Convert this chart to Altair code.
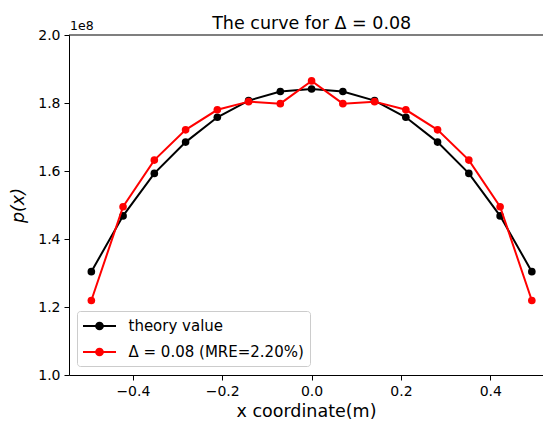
import altair as alt
import pandas as pd

x_vals = [-0.493, -0.422, -0.352, -0.282, -0.211, -0.141, -0.070, 0.0,
          0.070, 0.141, 0.211, 0.282, 0.352, 0.422, 0.493]
theory = [1.304e8, 1.468e8, 1.593e8, 1.685e8, 1.758e8, 1.807e8, 1.834e8, 1.841e8,
          1.834e8, 1.807e8, 1.758e8, 1.685e8, 1.593e8, 1.468e8, 1.304e8]
approx = [1.219e8, 1.495e8, 1.632e8, 1.721e8, 1.780e8, 1.804e8, 1.798e8, 1.865e8,
          1.798e8, 1.804e8, 1.780e8, 1.721e8, 1.632e8, 1.495e8, 1.219e8]
series_names = ["theory value", "Δ = 0.08 (MRE=2.20%)"]
series_colors = ["#000000", "#ff0000"]
x_ticks = [-0.4, -0.2, 0.0, 0.2, 0.4]
y_ticks = [1.0e8, 1.2e8, 1.4e8, 1.6e8, 1.8e8, 2.0e8]
title_text = "The curve for Δ = 0.08"
offset_label = "1e8"

rows = []
for xv, t in zip(x_vals, theory):
    rows.append({"x": xv, "p": t, "series": series_names[0]})
for xv, a in zip(x_vals, approx):
    rows.append({"x": xv, "p": a, "series": series_names[1]})
df = pd.DataFrame(rows)
one = pd.DataFrame({"k": [0]})

FONT = "DejaVu Sans"
W, H = 474, 340

legend_path = ("M-2.06,0H2.06"
               "M0.42,0A0.42,0.42,0,1,1,-0.42,0A0.42,0.42,0,1,1,0.42,0"
               "M0.25,0A0.25,0.25,0,1,1,-0.25,0A0.25,0.25,0,1,1,0.25,0"
               "M0.08,0A0.08,0.08,0,1,1,-0.08,0A0.08,0.08,0,1,1,0.08,0")

x_enc = alt.X("x:Q",
              scale=alt.Scale(domain=[-0.543, 0.518], nice=False, zero=False),
              axis=alt.Axis(values=x_ticks, grid=False,
                            labelExpr="replace(format(datum.value, '.1f'), '-', '\u2212')",
                            title="x coordinate(m)", titleFontSize=17.5,
                            titleFontWeight="normal", titlePadding=4,
                            labelFontSize=14, labelPadding=4, tickSize=5,
                            domainColor="black", tickColor="black",
                            labelColor="black", titleColor="black",
                            labelFont=FONT, titleFont=FONT))
y_enc = alt.Y("p:Q",
              scale=alt.Scale(domain=[1.0e8, 2.0e8], nice=False, zero=False),
              axis=alt.Axis(values=y_ticks, grid=False,
                            labelExpr="format(datum.value / 1e8, '.1f')",
                            title="p(x)", titleFontSize=17.5,
                            titleFontWeight="normal", titleFontStyle="italic",
                            titlePadding=10,
                            labelFontSize=14, labelPadding=4, tickSize=5,
                            domainColor="black", tickColor="black",
                            labelColor="black", titleColor="black",
                            labelFont=FONT, titleFont=FONT))
color_enc = alt.Color("series:N",
                      scale=alt.Scale(domain=series_names, range=series_colors),
                      legend=alt.Legend(title=None, orient="none",
                                        legendX=8, legendY=276,
                                        symbolType=legend_path, symbolSize=256,
                                        symbolStrokeWidth=2, symbolOffset=7.5,
                                        labelFontSize=15, labelFont=FONT,
                                        labelColor="black", labelOffset=20,
                                        labelLimit=400,
                                        rowPadding=9, padding=6,
                                        fillColor="white", strokeColor="#cccccc",
                                        cornerRadius=3))

layers = []
for name in series_names:
    sub = alt.Chart(df).transform_filter(alt.datum.series == name)
    layers.append(sub.mark_line(strokeWidth=2).encode(x=x_enc, y=y_enc, color=color_enc))
    layers.append(sub.mark_point(filled=True, size=58, opacity=1).encode(x=x_enc, y=y_enc, color=color_enc))

top_line = alt.Chart(one).mark_rule(color="black", strokeWidth=1.1).encode(
    x=alt.value(0), x2=alt.value(W), y=alt.value(0))
offset_text = alt.Chart(one).mark_text(align="left", baseline="bottom", fontSize=12.5,
                                       font=FONT, color="black").encode(
    x=alt.value(1), y=alt.value(-2), text=alt.value(offset_label))
title_mark = alt.Chart(one).mark_text(align="center", baseline="alphabetic", fontSize=17.5,
                                      font=FONT, color="black").encode(
    x=alt.value(242.7), y=alt.value(-6), text=alt.value(title_text))

chart = alt.layer(*layers, top_line, offset_text, title_mark).properties(
    width=W, height=H,
    autosize=alt.AutoSizeParams(type="none"),
    padding={"left": 61, "top": 27, "right": 0, "bottom": 45},
).configure_view(stroke=None)

chart.save("out.html", embed_options={"renderer": "svg", "actions": False})
